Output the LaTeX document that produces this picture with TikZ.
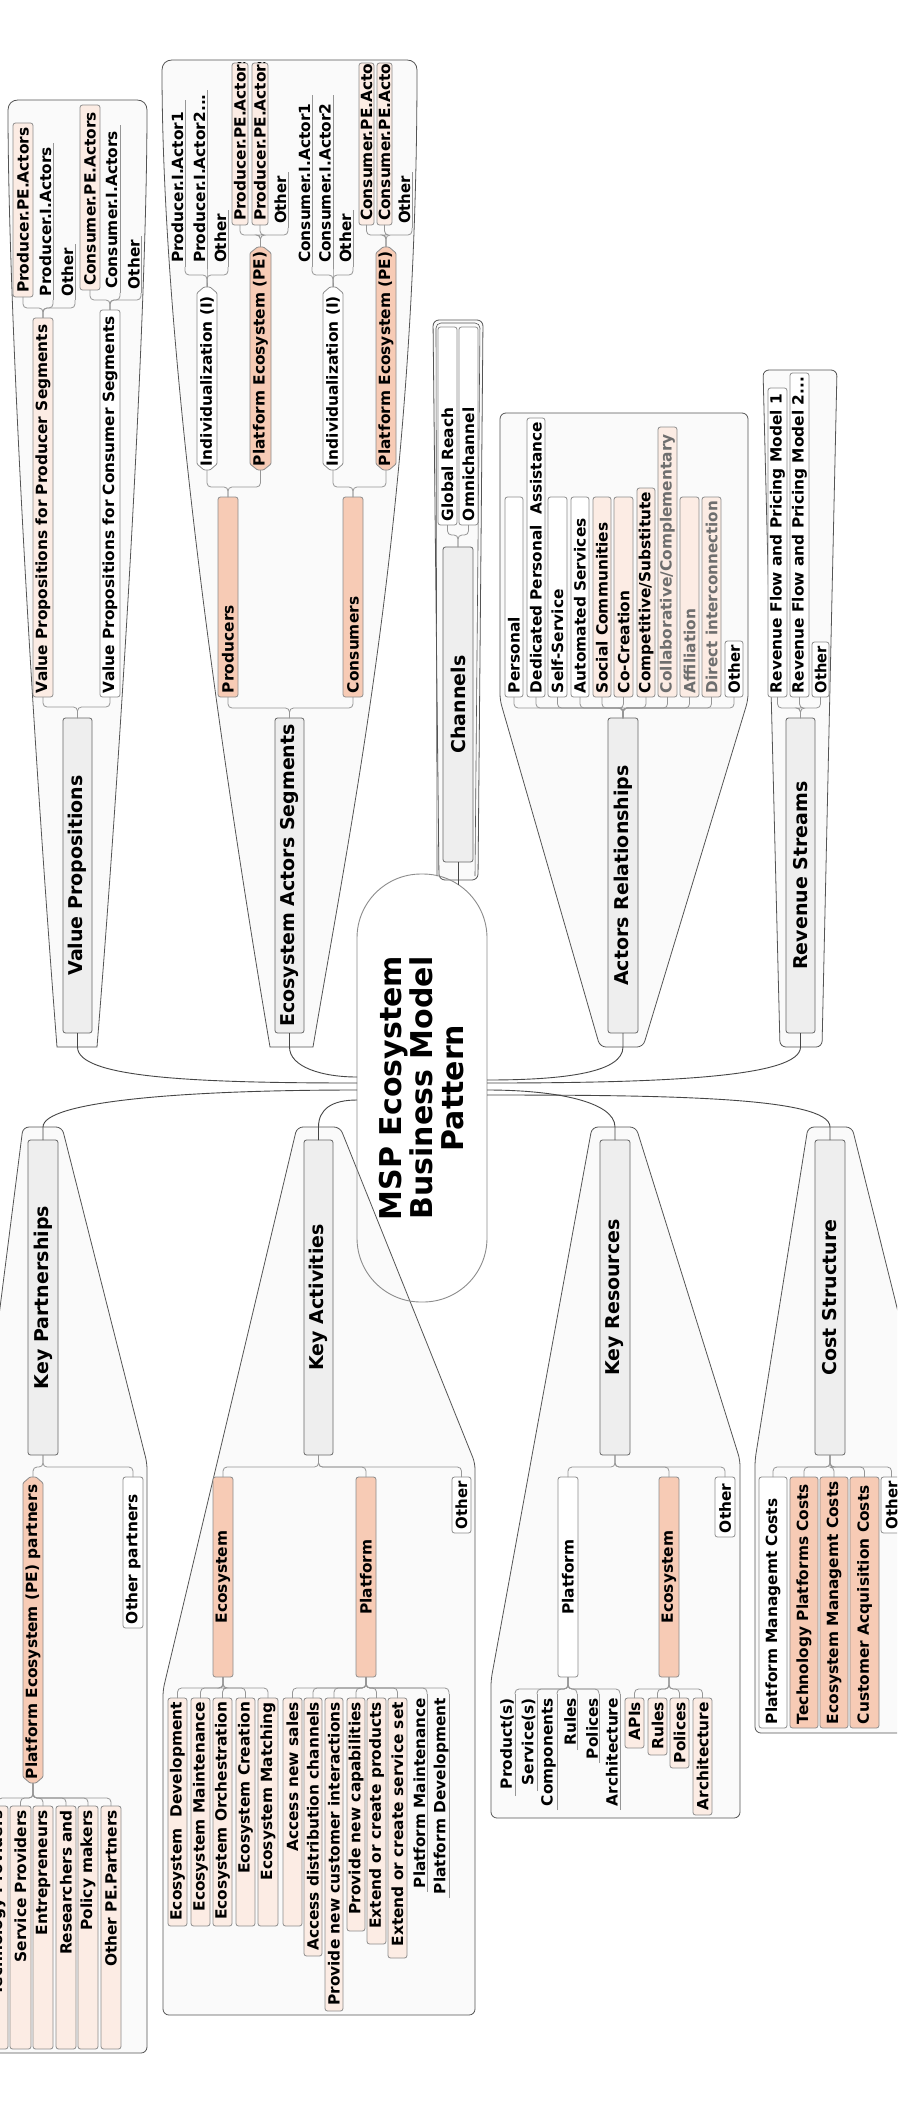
\documentclass[tikz,border=0pt]{standalone}
\usepackage{fontspec}
\usepackage{graphicx}
\setmainfont{DejaVu Sans}
\usetikzlibrary{calc}
\definecolor{peach}{RGB}{247,203,181}
\definecolor{peachlt}{RGB}{252,236,228}
\definecolor{maingray}{RGB}{238,238,238}
\definecolor{boxgray}{RGB}{140,140,140}
\definecolor{contline}{RGB}{85,85,85}
\definecolor{contfill}{RGB}{250,250,250}
\definecolor{brkgray}{RGB}{150,150,150}
\definecolor{connline}{RGB}{70,70,70}
\definecolor{txtgray}{RGB}{110,110,110}
\newsavebox\mmsb
\newcommand\mmfit[3]{\sbox\mmsb{#3}\ifdim\wd\mmsb>#1\relax\resizebox{#1}{\height}{\usebox\mmsb}\else\makebox[#1][#2]{\usebox\mmsb}\fi}
\newcommand\mmgeom[4]{%
  \pgfmathsetmacro\mmcx{(#1+#2)/2}%
  \pgfmathsetmacro\mmcy{(#3+#4)/2}%
  \pgfmathsetmacro\mmw{#4-#3}%
  \pgfmathsetmacro\mmh{#2-#1}%
  \pgfmathsetmacro\mmtw{#4-#3-8}}
\newcommand\mmbox[8]{%
  \mmgeom{#3}{#4}{#5}{#6}%
  \node[#1, minimum width=\mmw pt, minimum height=\mmh pt] (#2) at (\mmcx,\mmcy) {\mmfit{\mmtw pt}{#7}{#8}};%
}
\newcommand\mmboxo[8]{%
  \mmgeom{#3}{#4}{#5}{#6}%
  \node[#1, minimum width=\mmw pt, minimum height=\mmh pt] (#2) at (\mmcx,\mmcy) {\makebox[\mmtw pt][#7]{#8}};%
}
\newcommand\mmhex[8]{%
  \mmgeom{#3}{#4}{#5}{#6}%
  \draw[draw=boxgray, line width=0.8pt, fill=#1, rounded corners=1pt] (#3,#5+6) -- (\mmcx-3,#5) -- (\mmcx+3,#5) -- (#4,#5+6) -- (#4,#6-6) -- (\mmcx+3,#6) -- (\mmcx-3,#6) -- (#3,#6-6) -- cycle;
  \node[ubox, minimum width=\mmw pt, minimum height=\mmh pt] (#2) at (\mmcx,\mmcy) {\mmfit{\mmtw pt}{#7}{#8}};%
}
\newcommand\mmbrk[3]{\foreach \mmc in {#3}{\draw[brk] (#1) -- (#1 |- 0,#2) -| (\mmc);}}
\newcommand\mmul[1]{\foreach \mmc in {#1}{\draw[uline] (\mmc.south west) -- (\mmc.south east);}}
\tikzset{
 every node/.style={font=\bfseries\fontsize{15.4}{18}\selectfont, inner xsep=4pt, inner ysep=0pt, outer sep=0pt},
 bxbase/.style={draw=boxgray, line width=0.8pt, rounded corners=2.5pt, rotate=90},
 wbox/.style={bxbase, fill=white},
 pbox/.style={bxbase, fill=peachlt},
 pboxg/.style={bxbase, fill=peachlt, text=txtgray},
 sbox/.style={bxbase, fill=peach},
 gbox/.style={bxbase, draw=gray!80!black, fill=maingray, font=\bfseries\fontsize{19}{22}\selectfont},
 ubox/.style={rotate=90},
 brk/.style={draw=brkgray, line width=0.8pt, rounded corners=4pt},
 uline/.style={draw=brkgray, line width=0.8pt},
 cont/.style={draw=contline, fill=contfill, line width=0.8pt},
 conn/.style={draw=connline, line width=0.9pt},
}
\begin{document}
\begin{tikzpicture}[x=1pt,y=-1pt]
\useasboundingbox (0,0) rectangle (897,2116);
\clip (0,0) rectangle (897,2116);
\fill[white] (0,0) rectangle (897,2116);
% ---------- containers ----------
\draw[cont] (57,1047) .. controls (30,700) and (8,300) .. (8,110) .. controls (8,104) and (12,100) .. (18,100) -- (137,100) .. controls (143,100) and (147,104) .. (147,110) .. controls (147,300) and (125,700) .. (97,1047) -- cycle;
\draw[cont] (270,1047) .. controls (220,750) and (162,350) .. (162,70) .. controls (162,64) and (166,60) .. (172,60) -- (407,60) .. controls (413,60) and (417,64) .. (417,70) .. controls (417,500) and (355,800) .. (313,1047) -- cycle;
\draw[cont, rounded corners=6pt] (439,880) -- (433,320) -- (483,320) -- (478,880) -- cycle;
\draw[draw=contline, line width=0.6pt, rounded corners=5pt] (437,876) -- (436,323) -- (480,323) -- (475,876);
\draw[cont, rounded corners=6pt] (600,1047) -- (500,700) -- (500,413) -- (748,413) -- (748,700) -- (643,1047) -- cycle;
\draw[cont, rounded corners=6pt] (780,1047) -- (763,370) -- (837,370) -- (822,1047) -- cycle;
\draw[cont, rounded corners=6pt] (23,1127) -- (62,1127) -- (147,1463) -- (147,2053) -- (-20,2053) -- (-20,1465) -- cycle;
\draw[cont, rounded corners=6pt] (297,1127) -- (340,1127) -- (475,1463) -- (475,2015) -- (163,2015) -- (163,1690) -- cycle;
\draw[cont, rounded corners=6pt] (592,1127) -- (636,1127) -- (740,1460) -- (740,1818) -- (491,1818) -- (491,1680) -- cycle;
\draw[cont, rounded corners=6pt] (808,1127) -- (852,1127) -- (920,1400) -- (920,1733) -- (755,1733) -- (755,1460) -- cycle;
% ---------- center ----------
\node[draw=boxgray, line width=0.9pt, rounded corners=64pt, rotate=90, minimum width=428pt, minimum height=130pt, align=center, font=\bfseries\fontsize{30}{31}\selectfont] (C) at (422,1088) {MSP Ecosystem\\Business Model\\Pattern};
% ---------- Value Propositions ----------
\mmbox{gbox}{VP}{63}{92}{718}{1033}{c}{Value Propositions}
\mmbox{pbox}{VPPS}{33}{53}{318}{697}{l}{Value Propositions for Producer Segments}
\mmbox{wbox}{VPCS}{100}{120}{310}{697}{l}{Value Propositions for Consumer Segments}
\mmbox{pbox}{ppa}{13}{33}{123}{297}{l}{Producer.PE.Actors}
\mmbox{ubox}{pia}{38}{53}{143}{300}{l}{Producer.I.Actors}
\mmbox{ubox}{po1}{60}{75}{244}{300}{l}{Other}
\mmbox{pbox}{cpa}{80}{100}{105}{290}{l}{Consumer.PE.Actors}
\mmbox{ubox}{cia}{103}{120}{125}{293}{l}{Consumer.I.Actors}
\mmbox{ubox}{co1}{127}{141}{236}{293}{l}{Other}
% ---------- Ecosystem Actors Segments ----------
\mmbox{gbox}{EAS}{275}{304}{718}{1033}{c}{Ecosystem Actors Segments}
\mmbox{sbox}{Prod}{218}{238}{497}{697}{l}{Producers}
\mmbox{sbox}{Cons}{343}{363}{497}{697}{l}{Consumers}
\mmhex{white}{IndP}{197}{217}{287}{470}{l}{Individualization (I)}
\mmhex{peach}{PEP}{250}{271}{247}{470}{l}{Platform Ecosystem (PE)}
\mmhex{white}{IndC}{323}{343}{287}{470}{l}{Individualization (I)}
\mmhex{peach}{PEC}{376}{396}{247}{470}{l}{Platform Ecosystem (PE)}
\mmbox{ubox}{pi1}{170}{185}{100}{267}{l}{Producer.I.Actor1}
\mmbox{ubox}{pi2}{192}{207}{90}{267}{l}{Producer.I.Actor2...}
\mmbox{ubox}{po2}{213}{228}{210}{267}{l}{Other}
\begin{scope}
\clip (231,62.5) rectangle (249,226);
\mmboxo{pbox}{pp1}{232}{248}{63}{225}{l}{Producer.PE.Actors}
\end{scope}
\begin{scope}
\clip (251,62.5) rectangle (269,226);
\mmboxo{pbox}{pp2}{252}{268}{63}{225}{l}{Producer.PE.Actors}
\end{scope}
\mmbox{ubox}{po3}{273}{288}{172}{228}{l}{Other}
\mmbox{ubox}{ci1}{297}{312}{95}{267}{l}{Consumer.I.Actor1}
\mmbox{ubox}{ci2}{317}{333}{95}{267}{l}{Consumer.I.Actor2}
\mmbox{ubox}{co2}{338}{353}{210}{267}{l}{Other}
\begin{scope}
\clip (358,62.5) rectangle (375,226);
\mmboxo{pbox}{cp1}{359}{374}{63}{225}{l}{Consumer.PE.Actors}
\end{scope}
\begin{scope}
\clip (376,62.5) rectangle (393,226);
\mmboxo{pbox}{cp2}{377}{392}{63}{225}{l}{Consumer.PE.Actors}
\end{scope}
\mmbox{ubox}{co3}{397}{412}{172}{228}{l}{Other}
% ---------- Channels ----------
\mmbox{gbox}{Ch}{443}{473}{547}{862}{c}{Channels}
\mmbox{wbox}{GR}{438}{457}{327}{525}{l}{Global Reach}
\mmbox{wbox}{OC}{459}{478}{327}{525}{l}{Omnichannel}
% ---------- Actors Relationships ----------
\mmbox{gbox}{AR}{608}{638}{718}{1033}{c}{Actors Relationships}
\mmbox{wbox}{ar1}{505}{523}{497}{697}{l}{Personal}
\mmbox{wbox}{ar2}{527}{545}{418}{697}{l}{Dedicated Personal\ \ Assistance}
\mmbox{wbox}{ar3}{548}{567}{497}{697}{l}{Self-Service}
\mmbox{wbox}{ar4}{571}{589}{497}{697}{l}{Automated Services}
\mmbox{pbox}{ar5}{593}{611}{497}{697}{l}{Social Communities}
\mmbox{pbox}{ar6}{614}{633}{497}{697}{l}{Co-Creation}
\mmbox{pbox}{ar7}{637}{655}{488}{697}{l}{Competitive/Substitute}
\mmbox{pboxg}{ar8}{658}{677}{427}{697}{l}{Collaborative/Complementary}
\mmbox{pboxg}{ar9}{680}{699}{497}{697}{l}{Affiliation}
\mmbox{pboxg}{ar10}{702}{721}{497}{697}{l}{Direct interconnection}
\mmbox{wbox}{ar11}{725}{743}{641}{697}{l}{Other}
% ---------- Revenue Streams ----------
\mmbox{gbox}{RS}{786}{815}{718}{1033}{c}{Revenue Streams}
\mmbox{wbox}{rs1}{768}{787}{388}{697}{l}{Revenue Flow and Pricing Model 1}
\mmbox{wbox}{rs2}{790}{809}{373}{697}{l}{Revenue Flow and Pricing Model 2...}
\mmbox{wbox}{rs3}{812}{829}{642}{697}{l}{Other}
% ---------- Key Partnerships ----------
\mmbox{gbox}{KP}{28}{58}{1140}{1455}{c}{Key Partnerships}
\mmhex{peach}{PEpart}{23}{43}{1477}{1783}{l}{Platform Ecosystem (PE) partners}
\mmbox{wbox}{OPart}{123}{143}{1477}{1628}{l}{Other partners}
\mmbox{pbox}{tp}{-12}{8}{1806}{2049}{r}{Technology Providers}
\mmbox{pbox}{sp}{10}{31}{1806}{2049}{r}{Service Providers}
\mmbox{pbox}{en}{33}{53}{1806}{2049}{r}{Entrepreneurs}
\mmbox{pbox}{rsch}{56}{76}{1806}{2049}{r}{Researchers and}
\mmbox{pbox}{pm}{78}{98}{1806}{2049}{r}{Policy makers}
\mmbox{pbox}{ope}{101}{121}{1806}{2049}{r}{Other PE.Partners}
% ---------- Key Activities ----------
\mmbox{gbox}{KA}{304}{333}{1140}{1455}{c}{Key Activities}
\mmbox{sbox}{KAE}{213}{233}{1477}{1677}{c}{Ecosystem}
\mmbox{sbox}{KAP}{356}{376}{1477}{1677}{c}{Platform}
\mmbox{wbox}{KAO}{452}{471}{1477}{1533}{l}{Other}
\mmbox{pbox}{ke1}{168}{187}{1698}{1926}{r}{Ecosystem\ \ Development}
\mmbox{pbox}{ke2}{191}{210}{1698}{1926}{r}{Ecosystem Maintenance}
\mmbox{pbox}{ke3}{213}{232}{1698}{1926}{r}{Ecosystem Orchestration}
\mmbox{pbox}{ke4}{236}{255}{1698}{1926}{r}{Ecosystem Creation}
\mmbox{pbox}{ke5}{258}{278}{1698}{1926}{r}{Ecosystem Matching}
\mmbox{pbox}{kp1}{283}{302}{1698}{1926}{r}{Access new sales}
\mmbox{pbox}{kp2}{304}{322}{1698}{1956}{r}{Access distribution channels}
\mmbox{pbox}{kp3}{325}{343}{1698}{2011}{r}{Provide new customer interactions}
\mmbox{pbox}{kp4}{347}{365}{1698}{1931}{r}{Provide new capabilities}
\mmbox{pbox}{kp5}{367}{386}{1698}{1944}{r}{Extend or create products}
\mmbox{pbox}{kp6}{388}{407}{1698}{1958}{r}{Extend or create service set}
\mmbox{ubox}{kp7}{412}{427}{1694}{1892}{r}{Platform Maintenance}
\mmbox{ubox}{kp8}{433}{449}{1694}{1898}{r}{Platform Development}
% ---------- Key Resources ----------
\mmbox{gbox}{KR}{600}{630}{1140}{1455}{c}{Key Resources}
\mmbox{wbox}{KRP}{558}{578}{1477}{1677}{c}{Platform}
\mmbox{sbox}{KRE}{659}{679}{1477}{1677}{c}{Ecosystem}
\mmbox{wbox}{KRO}{715}{735}{1477}{1537}{l}{Other}
\mmbox{ubox}{r1}{499}{515}{1694}{1796}{r}{Product(s)}
\mmbox{ubox}{r2}{520}{537}{1694}{1791}{r}{Service(s)}
\mmbox{ubox}{r3}{540}{557}{1694}{1810}{r}{Components}
\mmbox{ubox}{r4}{563}{577}{1694}{1750}{r}{Rules}
\mmbox{ubox}{r5}{585}{599}{1694}{1763}{r}{Polices}
\mmbox{ubox}{r6}{604}{620}{1694}{1810}{r}{Architecture}
\mmbox{pbox}{e1}{625}{644}{1698}{1748}{r}{APIs}
\mmbox{pbox}{e2}{648}{667}{1698}{1755}{r}{Rules}
\mmbox{pbox}{e3}{670}{689}{1698}{1768}{r}{Polices}
\mmbox{pbox}{e4}{693}{712}{1698}{1815}{r}{Architecture}
% ---------- Cost Structure ----------
\mmbox{gbox}{CS}{815}{845}{1140}{1455}{c}{Cost Structure}
\mmbox{wbox}{c1}{759}{787}{1477}{1728}{l}{Platform Managemt Costs}
\mmbox{sbox}{c2}{790}{818}{1477}{1728}{l}{Technology Platforms Costs}
\mmbox{sbox}{c3}{820}{848}{1477}{1728}{l}{Ecosystem Managemt Costs}
\mmbox{sbox}{c4}{850}{879}{1477}{1728}{l}{Customer Acquisition Costs}
\mmbox{wbox}{c5}{881}{902}{1477}{1533}{l}{Other}
% ---------- main connectors ----------
\draw[conn] (VP.west) -- ++(0,14) .. controls +(0,30) and +(-170,0) .. ($(C.north)+(0,-5)$);
\draw[conn] (EAS.west) -- ++(0,14) .. controls +(0,20) and +(-35,0) .. ($(C.north)+(0,-11)$);
\draw[conn] (Ch.west) -- ($(Ch.west)+(0,23)$);
\draw[conn] (AR.west) -- ++(0,14) .. controls +(0,25) and +(80,0) .. ($(C.south)+(0,-8)$);
\draw[conn] (RS.west) -- ++(0,14) .. controls +(0,30) and +(180,0) .. ($(C.south)+(0,-5)$);
\draw[conn] (KP.east) -- ++(0,-13) .. controls +(0,-25) and +(-180,0) .. ($(C.north)+(0,2)$);
\draw[conn] (KA.east) -- ++(0,-13) .. controls +(0,-18) and +(-25,0) .. ($(C.north)+(0,12)$);
\draw[conn] (KR.east) -- ++(0,-13) .. controls +(0,-25) and +(70,0) .. ($(C.south)+(0,2)$);
\draw[conn] (CS.east) -- ++(0,-13) .. controls +(0,-30) and +(180,0) .. ($(C.south)+(0,7)$);
% ---------- brackets ----------
\mmbrk{VP.east}{707}{VPPS.west,VPCS.west}
\mmbrk{VPPS.east}{308}{ppa.west,pia.south west,po1.south west}
\mmbrk{VPCS.east}{300}{cpa.west,cia.south west,co1.south west}
\mmbrk{EAS.east}{708}{Prod.west,Cons.west}
\mmbrk{Prod.east}{487}{IndP.west,PEP.west}
\mmbrk{Cons.east}{487}{IndC.west,PEC.west}
\mmbrk{IndP.east}{275}{pi1.south west,pi2.south west,po2.south west}
\mmbrk{PEP.east}{235}{pp1.west,pp2.west,po3.south west}
\mmbrk{IndC.east}{275}{ci1.south west,ci2.south west,co2.south west}
\mmbrk{PEC.east}{235}{cp1.west,cp2.west,co3.south west}
\mmbrk{Ch.east}{535}{GR.west,OC.west}
\mmbrk{AR.east}{708}{ar1.west,ar2.west,ar3.west,ar4.west,ar5.west,ar6.west,ar7.west,ar8.west,ar9.west,ar10.west,ar11.west}
\mmbrk{RS.east}{708}{rs1.west,rs2.west,rs3.west}
\mmbrk{KP.west}{1467}{PEpart.east,OPart.east}
\mmbrk{PEpart.west}{1798}{tp.east,sp.east,en.east,rsch.east,pm.east,ope.east}
\mmbrk{KA.west}{1467}{KAE.east,KAP.east,KAO.east}
\mmbrk{KAE.west}{1688}{ke1.east,ke2.east,ke3.east,ke4.east,ke5.east}
\mmbrk{KAP.west}{1688}{kp1.east,kp2.east,kp3.east,kp4.east,kp5.east,kp6.east,kp7.south east,kp8.south east}
\mmbrk{KR.west}{1467}{KRP.east,KRE.east,KRO.east}
\mmbrk{KRP.west}{1689}{r1.south east,r2.south east,r3.south east,r4.south east,r5.south east,r6.south east}
\mmbrk{KRE.west}{1689}{e1.east,e2.east,e3.east,e4.east}
\mmbrk{CS.west}{1467}{c1.east,c2.east,c3.east,c4.east,c5.east}
% ---------- underlines ----------
\mmul{pia,po1,cia,co1,pi1,pi2,po2,po3,ci1,ci2,co2,co3,kp7,kp8,r1,r2,r3,r4,r5,r6}
\end{tikzpicture}
\end{document}
